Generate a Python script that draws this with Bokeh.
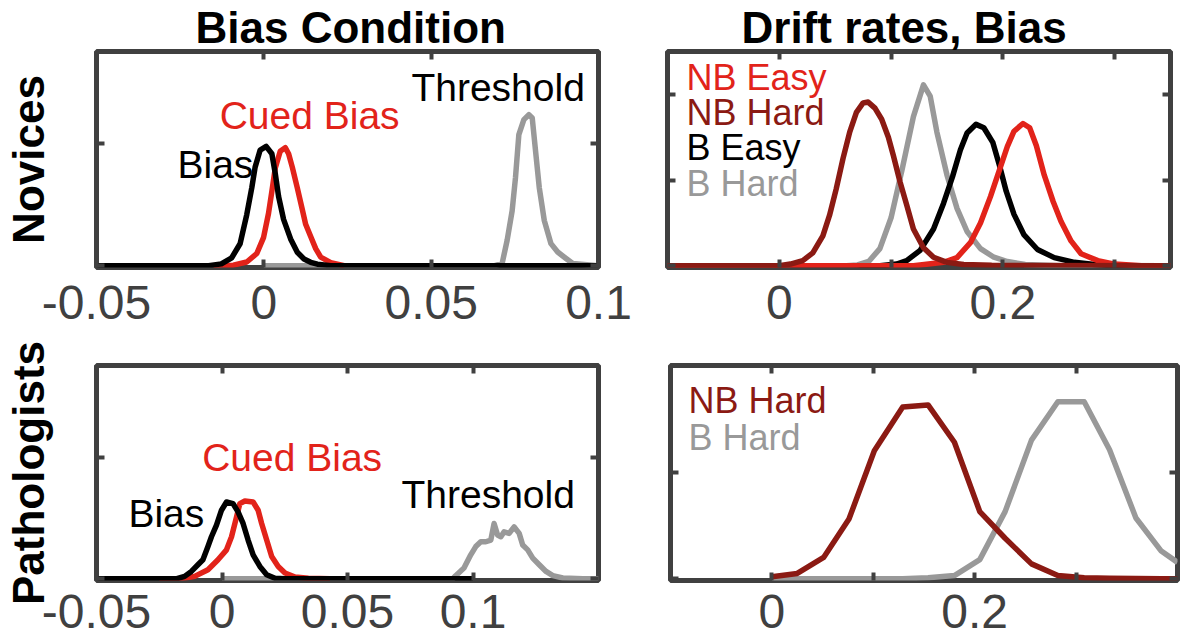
from bokeh.plotting import figure
from bokeh.models import LinearAxis, FixedTicker, Range1d, Label
from bokeh.layouts import column, row
from bokeh.embed import file_html
from bokeh.resources import INLINE

# ---------------- data ----------------
# Novices - Bias condition
nov_bias_x = [-0.05, -0.0165, -0.0127, -0.0096, -0.0071, -0.0051, -0.0036, -0.0026, -0.0011, 0.0007,
              0.0024, 0.0034, 0.0044, 0.0059, 0.0080, 0.0100, 0.0120, 0.0140, 0.0160, 0.0200, 0.1]
nov_bias_y = [0, 0, 1.5, 6.5, 18, 42, 64, 81, 95, 98, 92, 76, 57, 38, 22, 11, 5.5, 2.8, 1.2, 0, 0]
nov_cued_x = [-0.015, -0.0091, -0.0051, -0.0021, -0.0001, 0.0014, 0.0024, 0.0034, 0.0049, 0.0064,
              0.0074, 0.0085, 0.0100, 0.0115, 0.0125, 0.0140, 0.0155, 0.0170, 0.0200, 0.0240]
nov_cued_y = [0, 0.4, 3, 10, 23, 43, 61, 80, 94, 97, 92, 81, 64, 46, 34, 24, 14, 7, 2.5, 0]
nov_thr_x = [0.0, 0.069, 0.0712, 0.0727, 0.0742, 0.0752, 0.0762, 0.0777, 0.0792, 0.0802, 0.0812,
             0.0823, 0.0838, 0.0858, 0.0878, 0.0903, 0.0923, 0.1]
nov_thr_y = [0, 0, 1.8, 20.8, 45.2, 72.4, 107.7, 120.0, 124.0, 121.3, 94.1, 64.2, 37.1, 18.1,
             11.2, 5.9, 1.8, 0]

# Pathologists - Bias condition
path_bias_x = [-0.05, -0.018, -0.0149, -0.0122, -0.0096, -0.0076, -0.0056, -0.0042, -0.0022, -0.0002,
               0.0018, 0.0044, 0.0064, 0.0084, 0.0104, 0.0124, 0.0151, 0.0178, 0.0211, 0.025, 0.1]
path_bias_y = [0, 0, 1.9, 6.0, 11.5, 15.6, 26.5, 34.6, 44.2, 56.5, 63.3, 62, 55.1, 45.6, 31.9,
               19.7, 10.1, 3.3, 0.3, 0, 0]
path_cued_x = [-0.025, -0.0162, -0.0109, -0.0056, -0.0016, 0.0018, 0.0038, 0.0058, 0.0071, 0.0091,
               0.0124, 0.0144, 0.0158, 0.0178, 0.0198, 0.0224, 0.0251, 0.0291, 0.0344, 0.043]
path_cued_y = [0, 0, 1.9, 7.4, 15.6, 23.8, 34.6, 51.0, 62, 64.1, 63.3, 56.5, 45.6, 31.9, 18.3,
               10.1, 4.7, 1.4, 0.3, 0]
path_thr_x = [0.0, 0.092, 0.0931, 0.0964, 0.0991, 0.1011, 0.1031, 0.1051, 0.1071, 0.1084, 0.1098,
              0.1111, 0.1124, 0.1144, 0.1164, 0.1184, 0.1198, 0.1218, 0.1238, 0.1264, 0.1291,
              0.1318, 0.1358, 0.1438, 0.15]
path_thr_y = [0, 0, 2.5, 8.8, 19.7, 26.5, 30.5, 30.5, 31.9, 45.6, 36.0, 34.6, 38.7, 37.4, 42.8,
              37.4, 27.8, 23.8, 17.0, 11.5, 6.0, 2.5, 0.6, 0, 0]

# Novices - drift rates
drift_nb_hard_x = [-0.1, 0.0, 0.010, 0.021, 0.030, 0.039, 0.045, 0.051, 0.057, 0.063, 0.069, 0.075,
                   0.0795, 0.0856, 0.0916, 0.0976, 0.102, 0.108, 0.114, 0.120, 0.129, 0.138, 0.150,
                   0.165, 0.190, 0.35]
drift_nb_hard_y = [0, 0, 0.2, 0.6, 1.5, 3.5, 5.9, 9.0, 12.5, 15.6, 17.9, 19.0, 19.1, 18.4, 17.1,
                   15.0, 12.9, 9.8, 7.1, 4.3, 2.1, 1.0, 0.4, 0.15, 0.05, 0]
drift_b_hard_x = [-0.1, 0.06, 0.07, 0.08, 0.09, 0.10, 0.11, 0.12, 0.129, 0.135, 0.141, 0.150, 0.159,
                  0.168, 0.180, 0.192, 0.204, 0.22, 0.25, 0.35]
drift_b_hard_y = [0, 0, 0.1, 0.5, 2.0, 5.6, 11.3, 17.4, 21.1, 19.8, 15.6, 10.6, 6.7, 4.0, 2.0, 1.0,
                  0.5, 0.15, 0, 0]
drift_b_easy_x = [-0.1, 0.09, 0.105, 0.114, 0.126, 0.138, 0.147, 0.155, 0.162, 0.168, 0.176, 0.183,
                  0.191, 0.197, 0.203, 0.210, 0.219, 0.231, 0.246, 0.264, 0.282, 0.30, 0.35]
drift_b_easy_y = [0, 0, 0.2, 0.6, 1.8, 4.3, 7.3, 10.4, 13.5, 15.5, 16.5, 16.1, 14.4, 11.7, 8.7, 6.0,
                  3.6, 1.9, 0.95, 0.4, 0.15, 0, 0]
drift_nb_easy_x = [-0.1, 0.12, 0.147, 0.159, 0.171, 0.180, 0.189, 0.197, 0.204, 0.210, 0.218, 0.224,
                   0.230, 0.237, 0.245, 0.252, 0.261, 0.270, 0.285, 0.300, 0.324, 0.35]
drift_nb_easy_y = [0, 0, 0.4, 0.95, 2.7, 5.0, 8.1, 11.2, 13.9, 15.7, 16.6, 16.1, 14.0, 10.6, 7.5,
                   5.2, 2.9, 1.4, 0.6, 0.2, 0, 0]

# Pathologists - drift rates
path_drift_x = [0.0, 0.025, 0.051, 0.076, 0.101, 0.129, 0.154, 0.180, 0.205, 0.230, 0.256, 0.282,
                0.308, 0.333, 0.359, 0.384, 0.4]
path_nb_hard_y = [0.1, 0.25, 1.0, 2.8, 6.0, 8.05, 8.15, 6.4, 3.15, 1.9, 0.7, 0.15, 0.05, 0.02, 0.01, 0.0, 0.0]
path_b_hard_y = [0, 0, 0, 0, 0, 0, 0.05, 0.15, 0.9, 3.15, 6.5, 8.3, 8.3, 6.05, 2.85, 1.3, 0.77]

# ticks and labels
bias_xticks = [-0.05, 0.0, 0.05, 0.1]
bias_xlabels = ["-0.05", "0", "0.05", "0.1"]
drift_xticks = [0.0, 0.2]
drift_xlabels = ["0", "0.2"]
drift_xminor = [0.1, 0.3]
bias_yticks = [0.0, 100.0, 200.0]
drift_yticks_nov = [0.0, 10.0, 20.0]
drift_yticks_path = [0.0, 5.0, 10.0]

titles = ["Bias Condition", "Drift rates, Bias"]
row_labels = ["Novices", "Pathologists"]

# ---------------- style ----------------
FONT = "Liberation Sans"
AX = "#404040"
RED = "#E2231A"
DRED = "#8B1A13"
GRAY = "#999999"
BLACK = "#000000"
LW = 5.5


def make_fig(width, height, xr, yr, xticks, xlabels, xminor, yticks, borders, standoff,
             title="", title_offset=0, row_label=None, row_standoff=0):
    left, right, top, bottom = borders
    p = figure(width=width, height=height, x_range=Range1d(*xr), y_range=Range1d(*yr),
               output_backend="svg", toolbar_location=None, tools="",
               min_border_left=left, min_border_right=right,
               min_border_top=top, min_border_bottom=bottom)
    p.background_fill_color = "white"
    p.border_fill_color = "white"
    p.outline_line_color = AX
    p.outline_line_width = 5
    p.xgrid.visible = False
    p.ygrid.visible = False
    p.add_layout(LinearAxis(), "above")
    p.add_layout(LinearAxis(), "right")
    for ax in p.xaxis:
        ax.ticker = FixedTicker(ticks=xticks, minor_ticks=xminor)
    for ax in p.yaxis:
        ax.ticker = FixedTicker(ticks=yticks, minor_ticks=[])
    for ax in p.axis:
        ax.axis_line_color = None
        ax.major_tick_in = 8
        ax.major_tick_out = 0
        ax.minor_tick_in = 8
        ax.minor_tick_out = 0
        ax.major_tick_line_color = AX
        ax.minor_tick_line_color = AX
        ax.major_tick_line_width = 4
        ax.minor_tick_line_width = 4
        ax.major_label_text_color = None
        ax.major_label_standoff = 0
    b = p.below[0]
    b.major_label_text_color = AX
    b.major_label_text_font = FONT
    b.major_label_text_font_size = "48px"
    b.major_label_standoff = standoff
    b.major_label_overrides = dict(zip(xticks, xlabels))
    if title:
        p.title.text = title
        p.title.align = "left"
        p.title.text_font = FONT
        p.title.text_font_size = "44px"
        p.title.text_font_style = "bold"
        p.title.text_color = BLACK
        p.title.standoff = 0
        p.title.offset = title_offset
    if row_label:
        lax = p.left[0]
        lax.axis_label = row_label
        lax.axis_label_text_font = FONT
        lax.axis_label_text_font_size = "44px"
        lax.axis_label_text_font_style = "bold"
        lax.axis_label_text_color = BLACK
        lax.axis_label_standoff = row_standoff
    return p


def txt(p, text, x, y, color, size="39px"):
    p.add_layout(Label(x=x, y=y, text=text, text_color=color, text_font=FONT,
                       text_font_size=size, text_baseline="alphabetic"))


W_L, W_R = 632, 552
H_T, H_B = 336, 304

# Panel 1: Novices, bias
p1 = make_fig(W_L, H_T, (-0.05, 0.1), (-1.5, 176), bias_xticks, bias_xlabels, [], bias_yticks,
              (96, 34, 50, 69), 18, title=titles[0], title_offset=99,
              row_label=row_labels[0], row_standoff=44)
p1.line(nov_thr_x, nov_thr_y, line_color=GRAY, line_width=LW, line_join="round")
p1.line(nov_cued_x, nov_cued_y, line_color=RED, line_width=LW, line_join="round")
p1.line(nov_bias_x, nov_bias_y, line_color=BLACK, line_width=LW, line_join="round")
txt(p1, "Threshold", 0.0441, 146.6, BLACK)
txt(p1, "Cued Bias", -0.0132, 123.7, RED)
txt(p1, "Bias", -0.0258, 82.8, BLACK)

# Panel 2: Novices, drift rates
p2 = make_fig(W_R, H_T, (-0.1, 0.35), (-0.2, 25), drift_xticks, drift_xlabels, drift_xminor,
              drift_yticks_nov, (35, 14, 50, 69), 18, title=titles[1], title_offset=74)
p2.line(drift_b_hard_x, drift_b_hard_y, line_color=GRAY, line_width=LW, line_join="round")
p2.line(drift_b_easy_x, drift_b_easy_y, line_color=BLACK, line_width=LW, line_join="round")
p2.line(drift_nb_easy_x, drift_nb_easy_y, line_color=RED, line_width=LW, line_join="round")
p2.line(drift_nb_hard_x, drift_nb_hard_y, line_color=DRED, line_width=LW, line_join="round")
txt(p2, "NB Easy", -0.083, 21.99, RED, size="36px")
txt(p2, "NB Hard", -0.083, 17.92, DRED, size="36px")
txt(p2, "B Easy", -0.083, 13.80, BLACK, size="36px")
txt(p2, "B Hard", -0.083, 9.62, GRAY, size="36px")

# Panel 3: Pathologists, bias
p3 = make_fig(W_L, H_B, (-0.05, 0.15), (-1.5, 176), bias_xticks, bias_xlabels, [], bias_yticks,
              (96, 34, 29, 60), 14, row_label=row_labels[1], row_standoff=44)
p3.line(path_thr_x, path_thr_y, line_color=GRAY, line_width=LW, line_join="round")
p3.line(path_cued_x, path_cued_y, line_color=RED, line_width=LW, line_join="round")
p3.line(path_bias_x, path_bias_y, line_color=BLACK, line_width=LW, line_join="round")
txt(p3, "Cued Bias", -0.0079, 100.1, RED)
txt(p3, "Threshold", 0.0715, 69.5, BLACK)
txt(p3, "Bias", -0.0373, 53.6, BLACK)

# Panel 4: Pathologists, drift rates
p4 = make_fig(W_R, H_B, (-0.1, 0.4), (-0.08, 10), drift_xticks, drift_xlabels, drift_xminor,
              drift_yticks_path, (38, 7, 29, 60), 14)
p4.line(path_drift_x, path_b_hard_y, line_color=GRAY, line_width=LW, line_join="round")
p4.line(path_drift_x, path_nb_hard_y, line_color=DRED, line_width=LW, line_join="round")
txt(p4, "NB Hard", -0.0822, 8.36, DRED, size="36px")
txt(p4, "B Hard", -0.0822, 6.63, GRAY, size="36px")

layout = column(row(p1, p2), row(p3, p4))
open("out.html", "w").write(file_html(layout, INLINE))
